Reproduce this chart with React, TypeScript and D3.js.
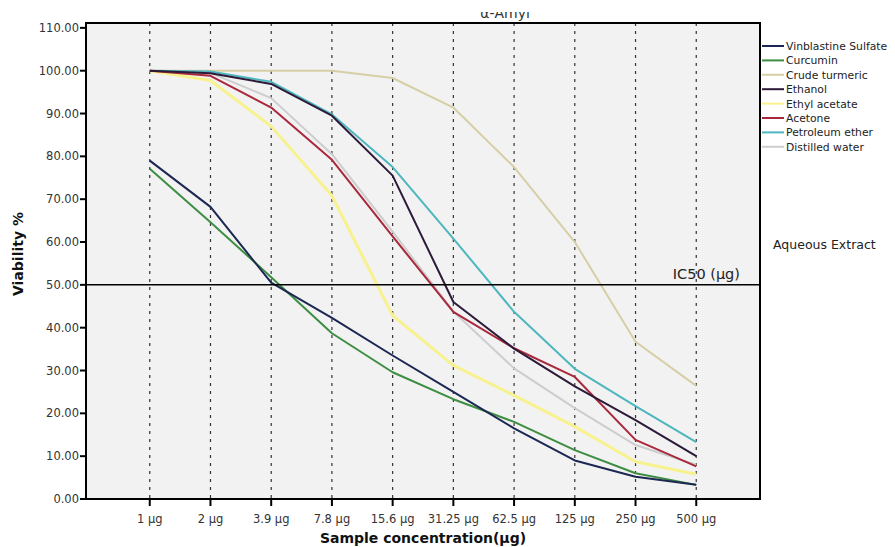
import React from "react";
import * as d3 from "d3";

const categories = ["1 μg", "2 μg", "3.9 μg", "7.8 μg", "15.6 μg", "31.25 μg", "62.5 μg", "125 μg", "250 μg", "500 μg"];
const yTicks = [0, 10, 20, 30, 40, 50, 60, 70, 80, 90, 100, 110];

const vinblastine = [79, 68.2, 50.5, 42.3, 33.5, 25, 16.5, 9, 5.2, 3.3];
const curcumin = [77.1, 64.6, 51.8, 38.7, 29.6, 23.3, 18, 11.4, 6, 3.3];
const crudeTurmeric = [100, 100, 100, 100, 98.3, 91.4, 77.5, 60, 36.7, 26.4];
const ethanol = [100, 99.4, 96.9, 89.5, 75.5, 46, 35.1, 26.3, 18.4, 10];
const ethylAcetate = [100, 97.7, 87, 70.8, 42.8, 31.2, 24.2, 16.9, 8.7, 5.8];
const acetone = [100, 98.8, 91.4, 79.2, 61.3, 43.7, 35.2, 28.5, 13.8, 7.6];
const petroleumEther = [100, 99.8, 97.4, 89.8, 77.5, 60.8, 43.7, 30.4, 21.7, 13.3];
const distilledWater = [100, 99.5, 93.6, 80.5, 62.4, 43.8, 30.5, 21.2, 12.6, 8];

const seriesNames = ["Vinblastine Sulfate", "Curcumin", "Crude turmeric", "Ethanol", "Ethyl acetate", "Acetone", "Petroleum ether", "Distilled water"];
const seriesValues = [vinblastine, curcumin, crudeTurmeric, ethanol, ethylAcetate, acetone, petroleumEther, distilledWater];
const seriesColors = ["#1c2752", "#3d8d42", "#d6cfa6", "#2c1a38", "#f8f28e", "#a9283b", "#4db6be", "#cdcdcf"];
const seriesWidths = [2, 2, 2, 2, 3, 2, 2, 2];

const font = "'DejaVu Sans', sans-serif";

export default function App() {
  const W = 895, H = 547;
  const left = 86, right = 760, top = 23, bottom = 499;
  const x = d3.scalePoint<string>().domain(categories).range([left, right]).padding(1.05);
  const y = d3.scaleLinear().domain([0, 100]).range([bottom, 70.7]);
  const line = d3.line<number>().x((_, i) => x(categories[i]) as number).y((d) => y(d));
  const drawOrder = [2, 7, 4, 6, 5, 3, 1, 0];

  return (
    <svg width={W} height={H} style={{ position: "absolute", left: 0, top: 0, background: "#fff" }}>
      <rect x={0} y={0} width={W} height={H} fill="#fff" />
      <text x={505} y={18} textAnchor="middle" fontFamily={font} fontSize={14} fill="#333">α-Amyl</text>
      <rect x={400} y={0} width={220} height={12} fill="#fff" />
      <rect x={left} y={top} width={right - left} height={bottom - top} fill="#f2f2f2" />
      {categories.map((c) => (
        <line key={c} x1={x(c)} x2={x(c)} y1={top} y2={bottom} stroke="#333" strokeWidth={1.2} strokeDasharray="3,5" />
      ))}
      {drawOrder.map((i) => (
        <path key={seriesNames[i]} d={line(seriesValues[i]) as string} fill="none" stroke={seriesColors[i]} strokeWidth={seriesWidths[i]} strokeLinejoin="round" />
      ))}
      <line x1={left} x2={right} y1={y(50)} y2={y(50)} stroke="#000" strokeWidth={1.5} />
      <text x={740} y={y(50) - 6} textAnchor="end" fontFamily={font} fontSize={14.5} fill="#222">IC50 (μg)</text>
      <rect x={left} y={top} width={right - left} height={bottom - top} fill="none" stroke="#000" strokeWidth={2} />
      {yTicks.map((t) => (
        <g key={t}>
          <line x1={left - 6} x2={left} y1={y(t)} y2={y(t)} stroke="#000" strokeWidth={2} />
          <text x={79} y={y(t) + 4} textAnchor="end" fontFamily={font} fontSize={11.5} fill="#333">{t.toFixed(2)}</text>
        </g>
      ))}
      {categories.map((c) => (
        <g key={c}>
          <line x1={x(c)} x2={x(c)} y1={bottom} y2={bottom + 7} stroke="#000" strokeWidth={2} />
          <text x={x(c)} y={523} textAnchor="middle" fontFamily={font} fontSize={11.5} fill="#333">{c}</text>
        </g>
      ))}
      <text x={423} y={543} textAnchor="middle" fontFamily={font} fontWeight="bold" fontSize={14} fill="#111">Sample concentration(μg)</text>
      <text transform={`translate(23,${254}) rotate(-90)`} textAnchor="middle" fontFamily={font} fontWeight="bold" fontSize={14} fill="#111">Viability %</text>
      {seriesNames.map((n, i) => (
        <g key={n}>
          <line x1={762} x2={784} y1={46 + i * 14.4} y2={46 + i * 14.4} stroke={seriesColors[i]} strokeWidth={2} />
          <text x={786} y={46 + i * 14.4 + 4} fontFamily={font} fontSize={10.8} fill="#222">{n}</text>
        </g>
      ))}
      <text x={773} y={249} fontFamily={font} fontSize={12.5} fill="#222">Aqueous Extract</text>
    </svg>
  );
}
